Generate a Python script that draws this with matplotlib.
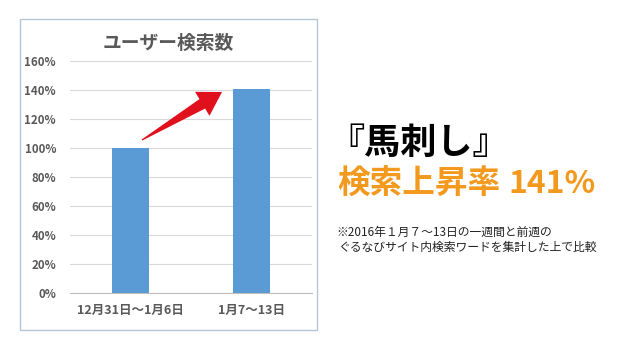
"""Weekly user search count comparison (bar chart with annotation)."""

import numpy as np
import matplotlib.pyplot as plt
from matplotlib.patches import Rectangle, Polygon

plt.rcParams["font.family"] = ["Noto Sans CJK JP", "DejaVu Sans"]

categories = ["12月31日～1月6日", "1月7～13日"]
values = [1.00, 1.41]
yticks = [0, 0.2, 0.4, 0.6, 0.8, 1.0, 1.2, 1.4, 1.6]
ytick_labels = ["0%", "20%", "40%", "60%", "80%", "100%", "120%", "140%", "160%"]

W, H = 640, 360


def px(x, y):
    # image pixel (y down) -> figure fraction
    return (x / W, 1 - y / H)


fig = plt.figure(figsize=(6.4, 3.6), dpi=100)
fig.patch.set_facecolor("white")

# chart frame
fig.patches.append(Rectangle(px(20, 330), 297 / W, 311 / H,
                             transform=fig.transFigure, fill=False,
                             edgecolor="#B4C7D7", linewidth=1.0))

ax = fig.add_axes([70 / W, 1 - 293 / H, 242 / W, 232 / H])
x = range(len(categories))
ax.bar(x, values, width=0.31, color="#5B9BD5", zorder=3)
ax.set_xlim(-0.5, 1.5)
ax.set_ylim(0, 1.6)
ax.set_yticks(yticks)
ax.set_yticklabels(ytick_labels)
ax.set_xticks(list(x))
ax.set_xticklabels(categories)
ax.grid(axis="y", color="#D9D9D9", linewidth=0.8, zorder=0)
for side in ["left", "right", "top"]:
    ax.spines[side].set_visible(False)
ax.spines["bottom"].set_color("#BFBFBF")
ax.tick_params(length=0, colors="#595959")
ax.tick_params(axis="x", pad=8, labelsize=9)
ax.tick_params(axis="y", pad=10, labelsize=8.3)
for lbl in ax.get_xticklabels() + ax.get_yticklabels():
    lbl.set_fontweight("bold")

fig.text(168 / W, 1 - 43 / H, "ユーザー検索数", ha="center", va="center",
         fontsize=13.5, fontweight="bold", color="#595959")

# red tapered arrow from first bar top toward second bar
tail = np.array([142.0, 140.0])
tip = np.array([222.0, 92.0])
u = (tip - tail) / np.linalg.norm(tip - tail)
n = np.array([u[1], -u[0]])
neck = tip - u * 23
pts = [tail + n * 0.6, neck + n * 5.5, neck + n * 14, tip,
       neck - n * 14, neck - n * 5.5, tail - n * 0.6]
fig.patches.append(Polygon([px(*p) for p in pts], closed=True,
                           transform=fig.transFigure, facecolor="#E0101C",
                           edgecolor="none", zorder=5))

fig.text(328 / W, 1 - 143 / H, "『馬刺し』", ha="left", va="center",
         fontsize=26, fontweight="bold", color="black")
fig.text(337 / W, 1 - 184 / H, "検索上昇率", ha="left", va="center",
         fontsize=23.5, fontweight="bold", color="#F39A1E")
fig.text(508 / W, 1 - 184 / H, "141%", ha="left", va="center",
         fontsize=23, fontweight="bold", color="#F39A1E")
fig.text(336 / W, 1 - 232 / H, "※2016年１月７～13日の一週間と前週の", ha="left", va="center",
         fontsize=8.5, color="#222222")
fig.text(338 / W, 1 - 247 / H, "ぐるなびサイト内検索ワードを集計した上で比較", ha="left", va="center",
         fontsize=8.5, color="#222222")

fig.savefig("out.png", dpi=100)
